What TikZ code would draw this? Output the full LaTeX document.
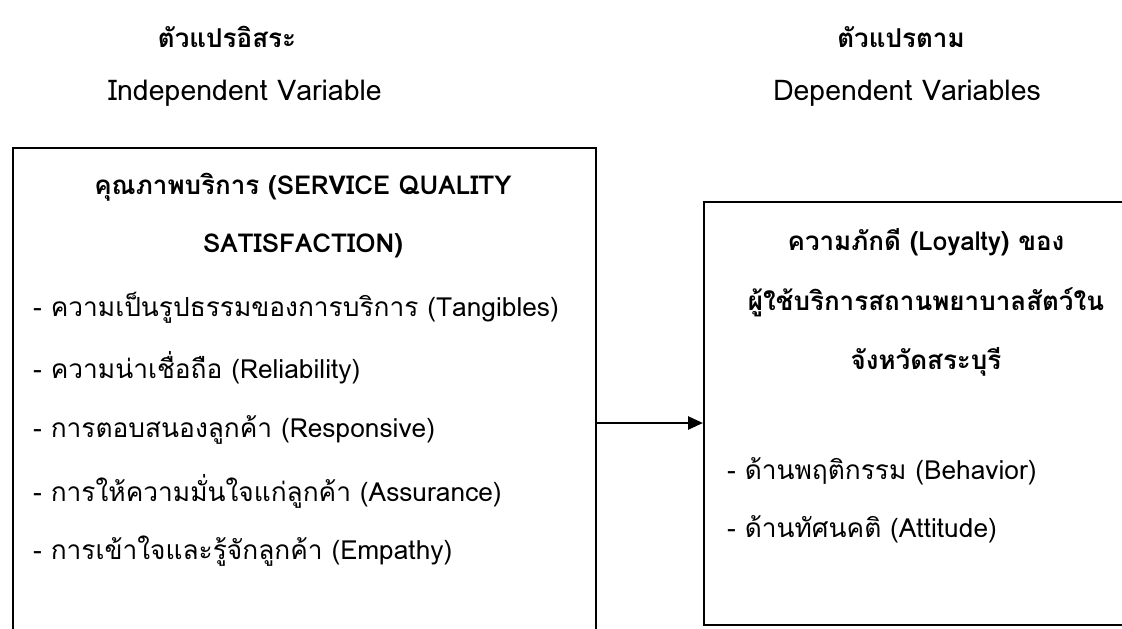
\documentclass[tikz,border=0pt]{standalone}
\usepackage{fontspec}
\setmainfont[Script=Thai]{Loma}
\usetikzlibrary{positioning, arrows.meta}

\tikzset{
    head/.style={font=\fontsize{26}{30}\selectfont\bfseries, anchor=center, inner sep=0pt},
    sub/.style={font=\fontsize{28.5}{32}\selectfont, anchor=center, inner sep=0pt},
    item/.style={font=\fontsize{26.3}{30}\selectfont, anchor=west, inner sep=0pt},
    frame/.style={draw, line width=1.8pt, rectangle, anchor=north west, inner sep=0pt},
}

\begin{document}
\begin{tikzpicture}[x=1pt, y=-1pt]
    \useasboundingbox (0, 0) rectangle (1122, 629);
    \clip (0, 0) rectangle (1122, 629);

    % headings
    \node (indep) [head] at (227, 37) {ตัวแปรอิสระ};
    \node (indepen) [sub] at (245, 93) {Independent Variable};
    \node (dep) [head] at (901, 37) {ตัวแปรตาม};
    \node (depen) [sub] at (907, 93) {Dependent Variables};

    % boxes
    \node (quality) [frame, minimum width=583pt, minimum height=500pt] at (12, 147) {};
    \node (loyalty) [frame, minimum width=440pt, minimum height=423pt] at (703, 201) {};

    % left box text
    \node (sq1) [head] at (303, 187) {คุณภาพบริการ (SERVICE QUALITY};
    \node (sq2) [head] at (303, 246) {SATISFACTION)};
    \node (tan) [item] at (33, 308) {- ความเป็นรูปธรรมของการบริการ (Tangibles)};
    \node (rel) [item] at (33, 368) {- ความน่าเชื่อถือ (Reliability)};
    \node (res) [item] at (33, 430) {- การตอบสนองลูกค้า (Responsive)};
    \node (ass) [item] at (33, 491) {- การให้ความมั่นใจแก่ลูกค้า (Assurance)};
    \node (emp) [item] at (33, 551) {- การเข้าใจและรู้จักลูกค้า (Empathy)};

    % right box text
    \node (loy1) [head] at (926, 242) {ความภักดี (Loyalty) ของ};
    \node (loy2) [head] at (926, 302) {ผู้ใช้บริการสถานพยาบาลสัตว์ใน};
    \node (loy3) [head] at (926, 362) {จังหวัดสระบุรี};
    \node (beh) [item] at (727, 471) {- ด้านพฤติกรรม (Behavior)};
    \node (att) [item] at (727, 529) {- ด้านทัศนคติ (Attitude)};

    \coordinate (level) at (0, 423);
    \draw [-{Triangle[length=15pt, width=13pt]}, line width=2.6pt] (quality.east |- level) -- (loyalty.west |- level);
\end{tikzpicture}
\end{document}
